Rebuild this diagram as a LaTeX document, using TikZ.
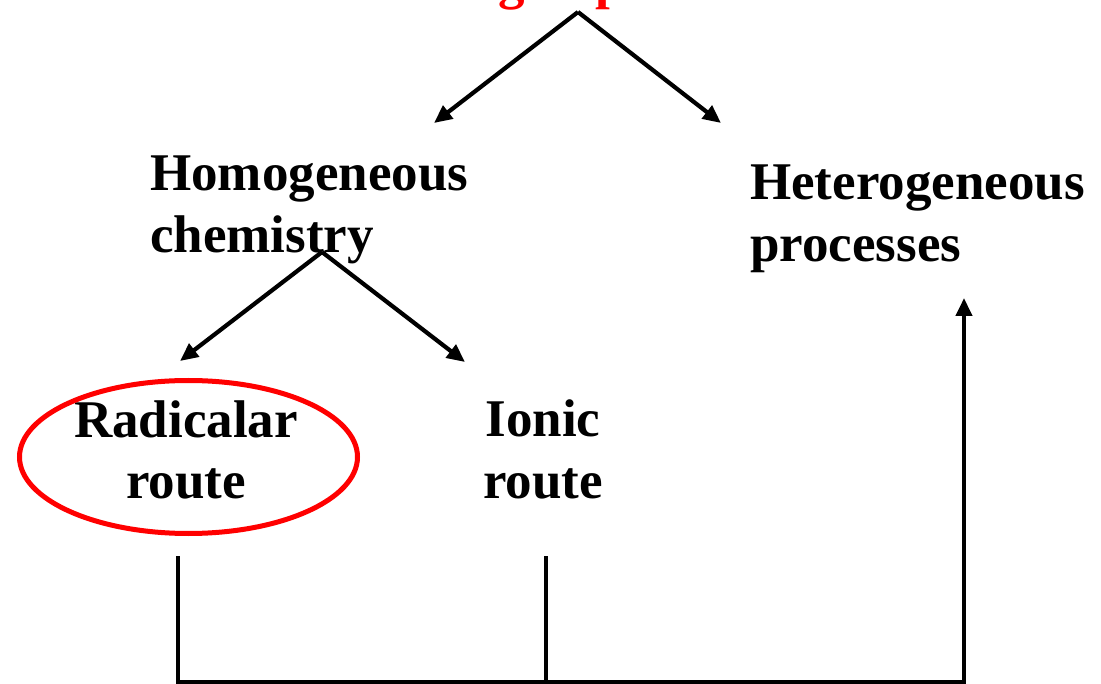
\documentclass[tikz,border=0pt]{standalone}
\usepackage{fontspec}
\setmainfont{Liberation Serif}
\usetikzlibrary{arrows.meta,shapes.geometric}
\tikzset{
  lbl/.style={font=\bfseries\fontsize{53}{62}\selectfont, inner sep=0pt},
  conn/.style={line width=4.2pt, black},
  arr/.style={conn, -{Triangle[length=18pt,width=16pt]}},
  ring/.style={draw=red, line width=5pt, ellipse, inner sep=0pt}
}
\begin{document}
\begin{tikzpicture}[x=1pt,y=-1pt]
\useasboundingbox (0,0) rectangle (1101,684);
\clip (0,0) rectangle (1101,684);
% title (cut off at the top)
\node[lbl, text=red, anchor=base west] (title) at (498,-1) {\llap{Processin}g of pollutants};
% text nodes (base anchor = baseline of last line)
\node[lbl, anchor=base west, align=left] (homo) at (150,253) {Homogeneous\\chemistry};
\node[lbl, anchor=base west, align=left] (hetero) at (750,262) {Heterogeneous\\processes};
\node[lbl, anchor=base, align=center] (rad) at (186,499) {Radicalar\\route};
\node[lbl, anchor=base, align=center] (ionic) at (543,498) {Ionic\\route};
\node[ring, minimum width=338pt, minimum height=153pt] (radring) at (188.5,457) {};
% connector coordinates
\coordinate (apex1) at (578,12);
\coordinate (homotip) at (434,123);
\coordinate (heterotip) at (721,123);
\coordinate (apex2) at (322,252);
\coordinate (radtip) at (180,361);
\coordinate (iontip) at (465,362);
\coordinate (radfoot) at (178,556);
\coordinate (ionfoot) at (546,556);
\coordinate (corner) at (964,682);
\coordinate (hetbase) at (964,298);
% connectors
\draw[arr] (apex1) -- (homotip);
\draw[arr] (apex1) -- (heterotip);
\draw[arr] (apex2) -- (radtip);
\draw[arr] (apex2) -- (iontip);
\draw[conn] (ionfoot) -- (ionfoot |- corner);
\draw[arr] (radfoot) |- (corner) -- (hetbase);
\end{tikzpicture}
\end{document}
